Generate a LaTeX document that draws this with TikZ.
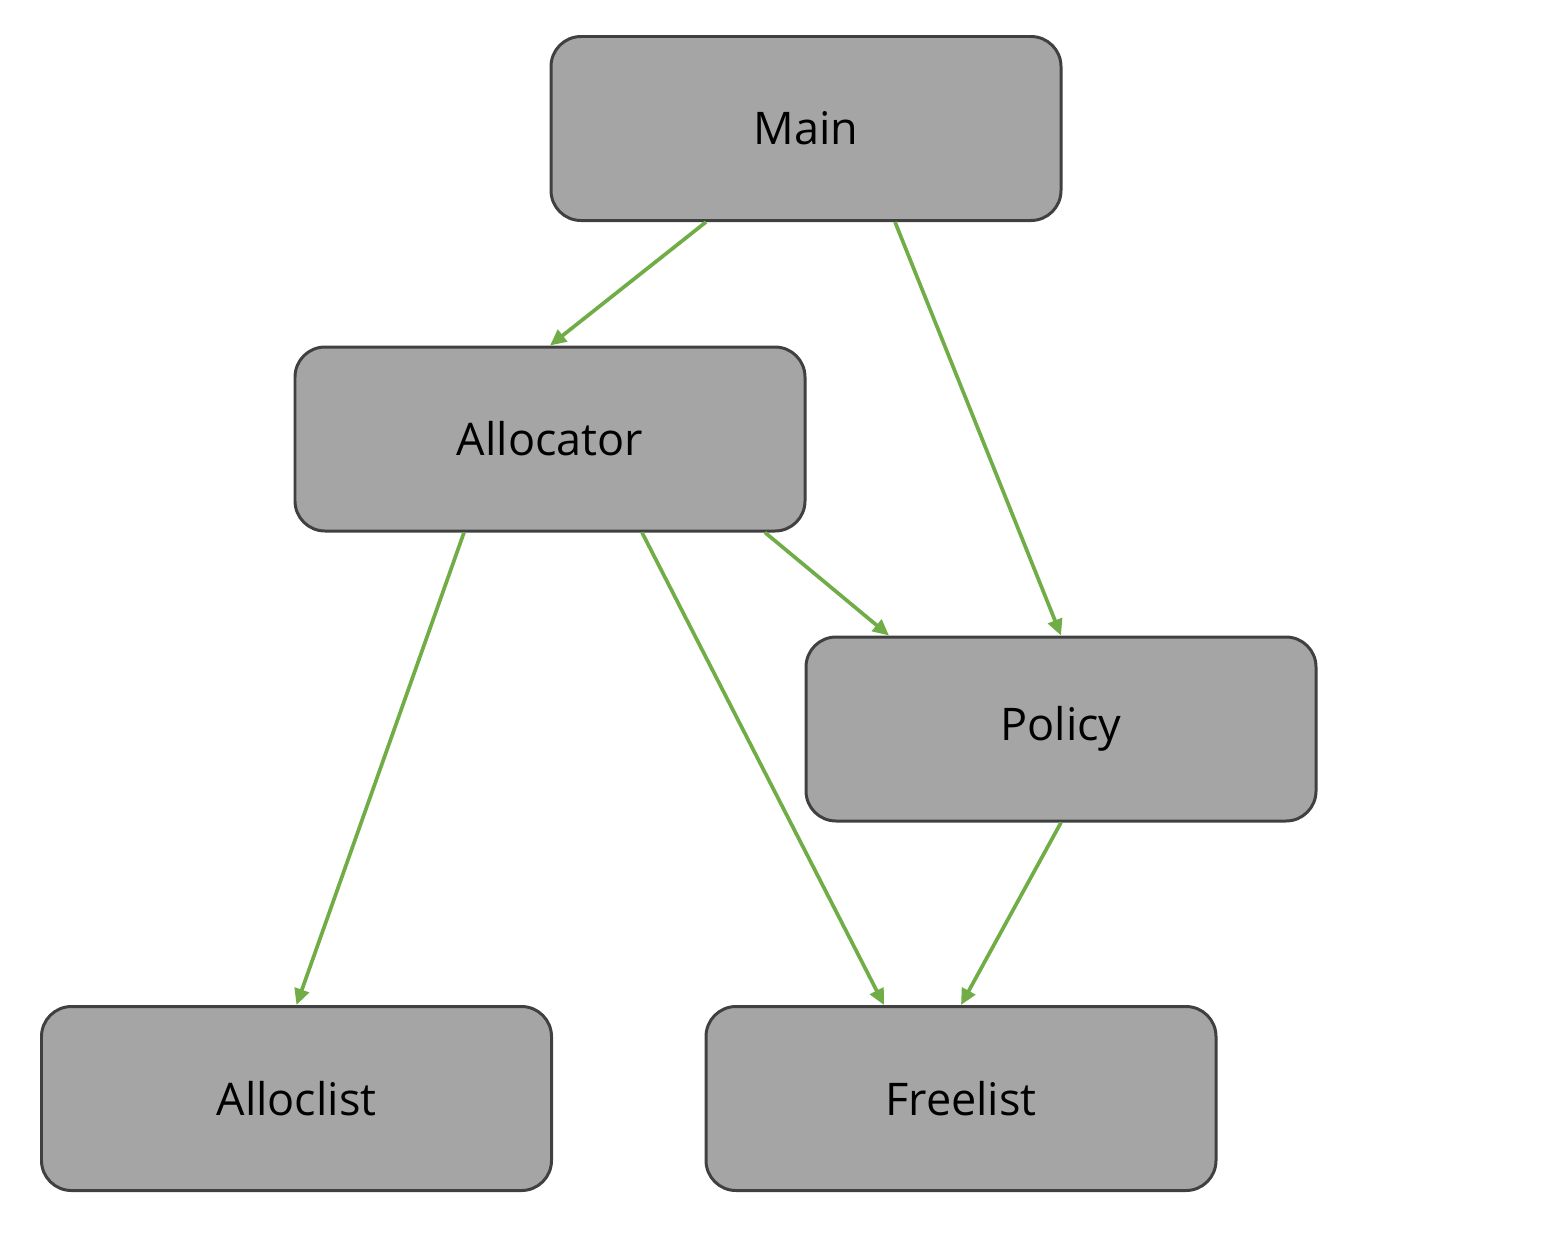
\documentclass[tikz,border=0pt]{standalone}
\usepackage{fontspec}
\setmainfont{Open Sans}
\usetikzlibrary{arrows.meta,positioning,calc}
\definecolor{boxfill}{HTML}{A5A5A5}
\definecolor{boxline}{HTML}{404040}
\definecolor{linkgreen}{HTML}{70AD47}

\begin{document}
\begin{tikzpicture}[>={Triangle[length=4.6pt,width=4.2pt]},
  modbox/.style={draw=boxline, fill=boxfill, line width=0.85pt, rounded corners=0.3cm,
    minimum width=5.1cm, minimum height=1.84cm, inner sep=0pt,
    font=\fontsize{12.8}{16}\selectfont},
  link/.style={->, linkgreen, line width=1.05pt}]

  \useasboundingbox (0,0) rectangle (15.59,-12.38);

  % ---- modules ----
  \node[modbox] (main)  at (8.06,-1.285)  {Main};
  \node[modbox] (alloc) at (5.50,-4.39)   {Allocator};
  \node[modbox] (pol)   at (10.61,-7.29)  {Policy};
  \node[modbox] (alist) at (2.965,-10.985) {Alloclist};
  \node[modbox] (flist) at (9.61,-10.985)  {Freelist};

  % ---- dependencies ----
  \draw[link] ([xshift=-1.0cm]main.south)  -- (alloc.north);
  \draw[link] ([xshift=0.89cm]main.south)  -- (pol.north);
  \draw[link] ([xshift=2.15cm]alloc.south) -- ([xshift=-1.72cm]pol.north);
  \draw[link] ([xshift=-0.86cm]alloc.south) -- (alist.north);
  \draw[link] ([xshift=0.92cm]alloc.south) -- ([xshift=-0.77cm]flist.north);
  \draw[link] (pol.south) -- (flist.north);

\end{tikzpicture}
\end{document}
